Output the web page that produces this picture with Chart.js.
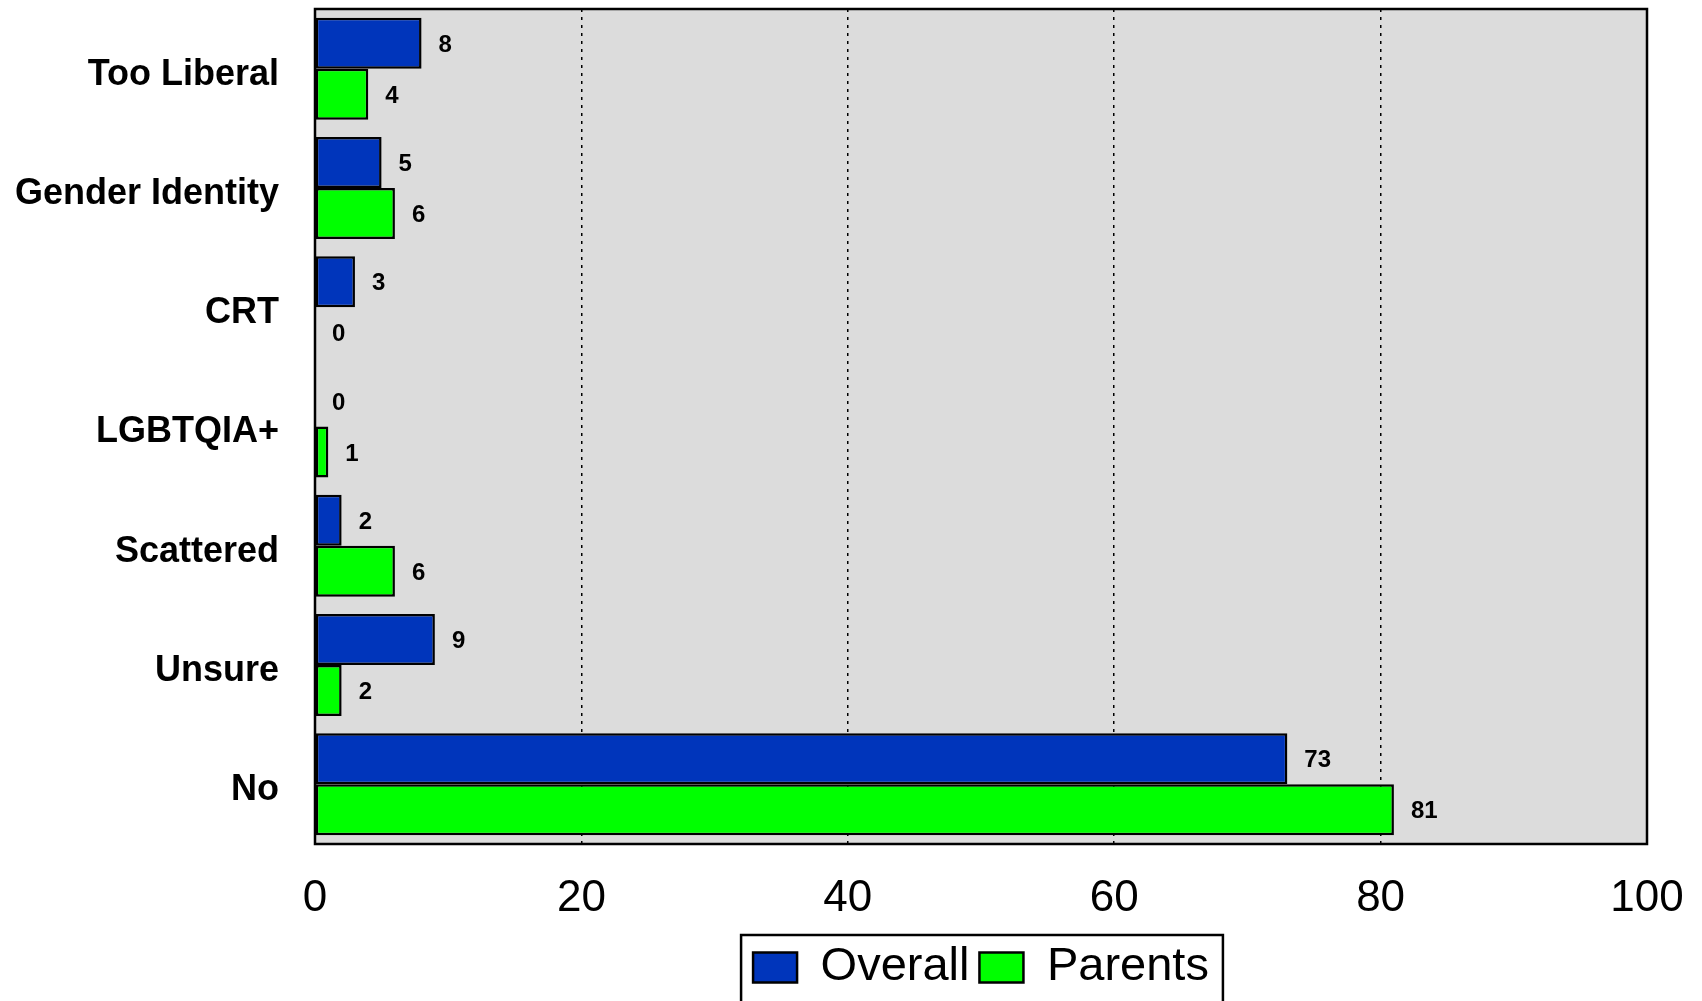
<!DOCTYPE html>
<html>
<head>
<meta charset="utf-8">
<script src="https://cdn.jsdelivr.net/npm/chart.js@4"></script>
<style>
  html, body { margin: 0; padding: 0; background: #fff; overflow: hidden; }
  canvas { display: block; }
</style>
</head>
<body>
<canvas id="surveyChart" width="1702" height="1001"></canvas>
<script>
// Data
const categories = ['Too Liberal', 'Gender Identity', 'CRT', 'LGBTQIA+', 'Scattered', 'Unsure', 'No'];
const overallValues = [8, 5, 3, 0, 2, 9, 73];
const parentsValues = [4, 6, 0, 1, 6, 2, 81];
const xTicks = [0, 20, 40, 60, 80, 100];

const FONT = "'Liberation Sans', Arial, sans-serif";

// grey plot background (under the grid) + black frame
const plotFrame = {
    id: 'plotFrame',
    beforeDraw(chart) {
        const { ctx, chartArea: a } = chart;
        ctx.save();
        ctx.fillStyle = '#dcdcdc';
        ctx.fillRect(a.left, a.top, a.right - a.left, a.bottom - a.top);
        ctx.restore();
    },
    afterDatasetsDraw(chart) {
        const { ctx, chartArea: a } = chart;
        ctx.save();
        ctx.strokeStyle = '#000';
        ctx.lineWidth = 2.5;
        ctx.strokeRect(a.left, a.top, a.right - a.left, a.bottom - a.top);
        ctx.restore();
    }
};

// value labels to the right of each bar
const valueLabels = {
    id: 'valueLabels',
    afterDatasetsDraw(chart) {
        const ctx = chart.ctx;
        ctx.save();
        ctx.fillStyle = '#000';
        ctx.font = 'bold 24px ' + FONT;
        ctx.textAlign = 'left';
        ctx.textBaseline = 'middle';
        chart.data.datasets.forEach((ds, i) => {
            chart.getDatasetMeta(i).data.forEach((bar, j) => {
                ctx.fillText(String(ds.data[j]), bar.x + 17, bar.y + 2);
            });
        });
        ctx.restore();
    }
};

// box around the legend
const legendBox = {
    id: 'legendBox',
    afterDraw(chart) {
        const lg = chart.legend;
        if (!lg || !lg.legendHitBoxes.length) return;
        const boxes = lg.legendHitBoxes;
        const left = Math.min(...boxes.map(b => b.left)) - 12;
        const right = Math.max(...boxes.map(b => b.left + b.width)) + 14;
        const ctx = chart.ctx;
        ctx.save();
        ctx.strokeStyle = '#000';
        ctx.lineWidth = 2.5;
        ctx.strokeRect(left, lg.top + 1, right - left, 100);
        ctx.restore();
    }
};

new Chart(document.getElementById('surveyChart').getContext('2d'), {
    type: 'bar',
    data: {
        labels: categories,
        datasets: [{
            label: 'Overall',
            data: overallValues,
            backgroundColor: '#0035bb',
            borderColor: '#000',
            borderWidth: 2.5,
            borderSkipped: false
        }, {
            label: 'Parents',
            data: parentsValues,
            backgroundColor: '#00ff00',
            borderColor: '#000',
            borderWidth: 2.5,
            borderSkipped: false
        }]
    },
    options: {
        indexAxis: 'y',
        responsive: false,
        animation: false,
        categoryPercentage: 0.855,
        barPercentage: 1.0,
        layout: { padding: { top: 9, right: 55, left: 0, bottom: 0 } },
        scales: {
            x: {
                min: 0, max: 100,
                afterBuildTicks: scale => { scale.ticks = xTicks.map(v => ({ value: v })); },
                afterFit: scale => {
                    scale.height = 90;
                    scale.paddingLeft = 0;
                    scale.paddingRight = 0;
                },
                grid: {
                    drawTicks: false,
                    color: c => (c.tick && c.tick.value > 0 && c.tick.value < 100) ? '#000' : 'rgba(0,0,0,0)',
                    lineWidth: 1.5
                },
                border: { display: false, dash: [3, 5] },
                ticks: { color: '#000', padding: 28, font: { family: FONT, size: 44 } }
            },
            y: {
                afterFit: scale => {
                    scale.width = 315;
                    scale.paddingTop = 0;
                    scale.paddingBottom = 0;
                },
                grid: { display: false, drawTicks: false },
                border: { display: false },
                ticks: { color: '#000', padding: 36, labelOffset: 6, font: { family: FONT, size: 36, weight: 'bold' } }
            }
        },
        plugins: {
            legend: {
                position: 'bottom',
                fullSize: false,
                labels: {
                    color: '#000',
                    boxWidth: 44,
                    boxHeight: 30,
                    padding: 10,
                    font: { family: FONT, size: 47 }
                }
            },
            tooltip: { enabled: false }
        }
    },
    plugins: [plotFrame, valueLabels, legendBox]
});
</script>
</body>
</html>
